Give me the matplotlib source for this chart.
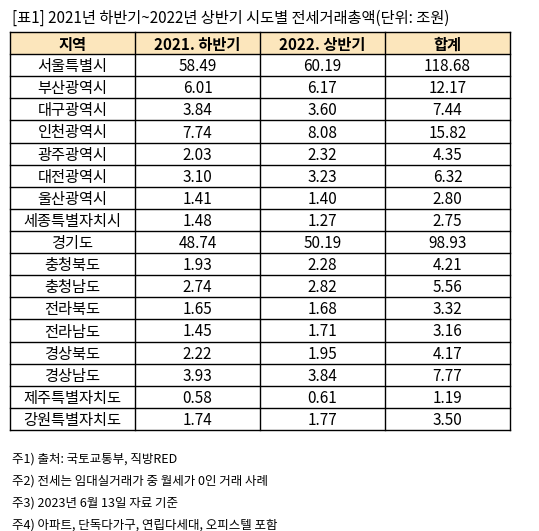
import matplotlib.pyplot as plt
from matplotlib.patches import Rectangle

plt.rcParams['font.family'] = ['Noto Sans CJK KR', 'DejaVu Sans']

headers = ['지역', '2021. 하반기', '2022. 상반기', '합계']
regions = ['서울특별시', '부산광역시', '대구광역시', '인천광역시', '광주광역시', '대전광역시',
           '울산광역시', '세종특별자치시', '경기도', '충청북도', '충청남도', '전라북도',
           '전라남도', '경상북도', '경상남도', '제주특별자치도', '강원특별자치도']
h2021 = [58.49, 6.01, 3.84, 7.74, 2.03, 3.10, 1.41, 1.48, 48.74, 1.93, 2.74, 1.65,
         1.45, 2.22, 3.93, 0.58, 1.74]
h2022 = [60.19, 6.17, 3.60, 8.08, 2.32, 3.23, 1.40, 1.27, 50.19, 2.28, 2.82, 1.68,
         1.71, 1.95, 3.84, 0.61, 1.77]
total = [118.68, 12.17, 7.44, 15.82, 4.35, 6.32, 2.80, 2.75, 98.93, 4.21, 5.56, 3.32,
         3.16, 4.17, 7.77, 1.19, 3.50]
title = '[표1] 2021년 하반기~2022년 상반기 시도별 전세거래총액(단위: 조원)'
notes = ['주1) 출처: 국토교통부, 직방RED',
         '주2) 전세는 임대실거래가 중 월세가 0인 거래 사례',
         '주3) 2023년 6월 13일 자료 기준',
         '주4) 아파트, 단독다가구, 연립다세대, 오피스텔 포함']

W, H = 539, 531
fig = plt.figure(figsize=(W / 100, H / 100), dpi=100)
ax = fig.add_axes([0, 0, 1, 1])
ax.set_xlim(0, W)
ax.set_ylim(H, 0)
ax.axis('off')

xs = [10, 135, 260, 385, 510]
top, bottom = 32, 430
nrows = len(regions) + 1
rh = (bottom - top) / nrows
dy = 1.5  # CJK font sits a bit high with va='center'

ax.text(12, 17 + dy, title, fontsize=11, va='center', ha='left')
ax.add_patch(Rectangle((xs[0], top), xs[-1] - xs[0], rh, facecolor='#FCE6BC', edgecolor='none'))

for i in range(nrows + 1):
    ax.plot([xs[0], xs[-1]], [top + i * rh] * 2, color='black', lw=1)
for x in xs:
    ax.plot([x, x], [top, bottom], color='black', lw=1)

for j, h in enumerate(headers):
    ax.text((xs[j] + xs[j + 1]) / 2, top + rh / 2 + dy, h, ha='center', va='center',
            fontsize=11, fontweight='bold')

for i, r in enumerate(regions):
    y = top + (i + 1.5) * rh + dy
    vals = [r, f'{h2021[i]:.2f}', f'{h2022[i]:.2f}', f'{total[i]:.2f}']
    for j, v in enumerate(vals):
        ax.text((xs[j] + xs[j + 1]) / 2, y, v, ha='center', va='center', fontsize=11)

for k, n in enumerate(notes):
    ax.text(12, 459 + k * 22, n, fontsize=9, va='center', ha='left')

fig.savefig('out.png', dpi=100)
